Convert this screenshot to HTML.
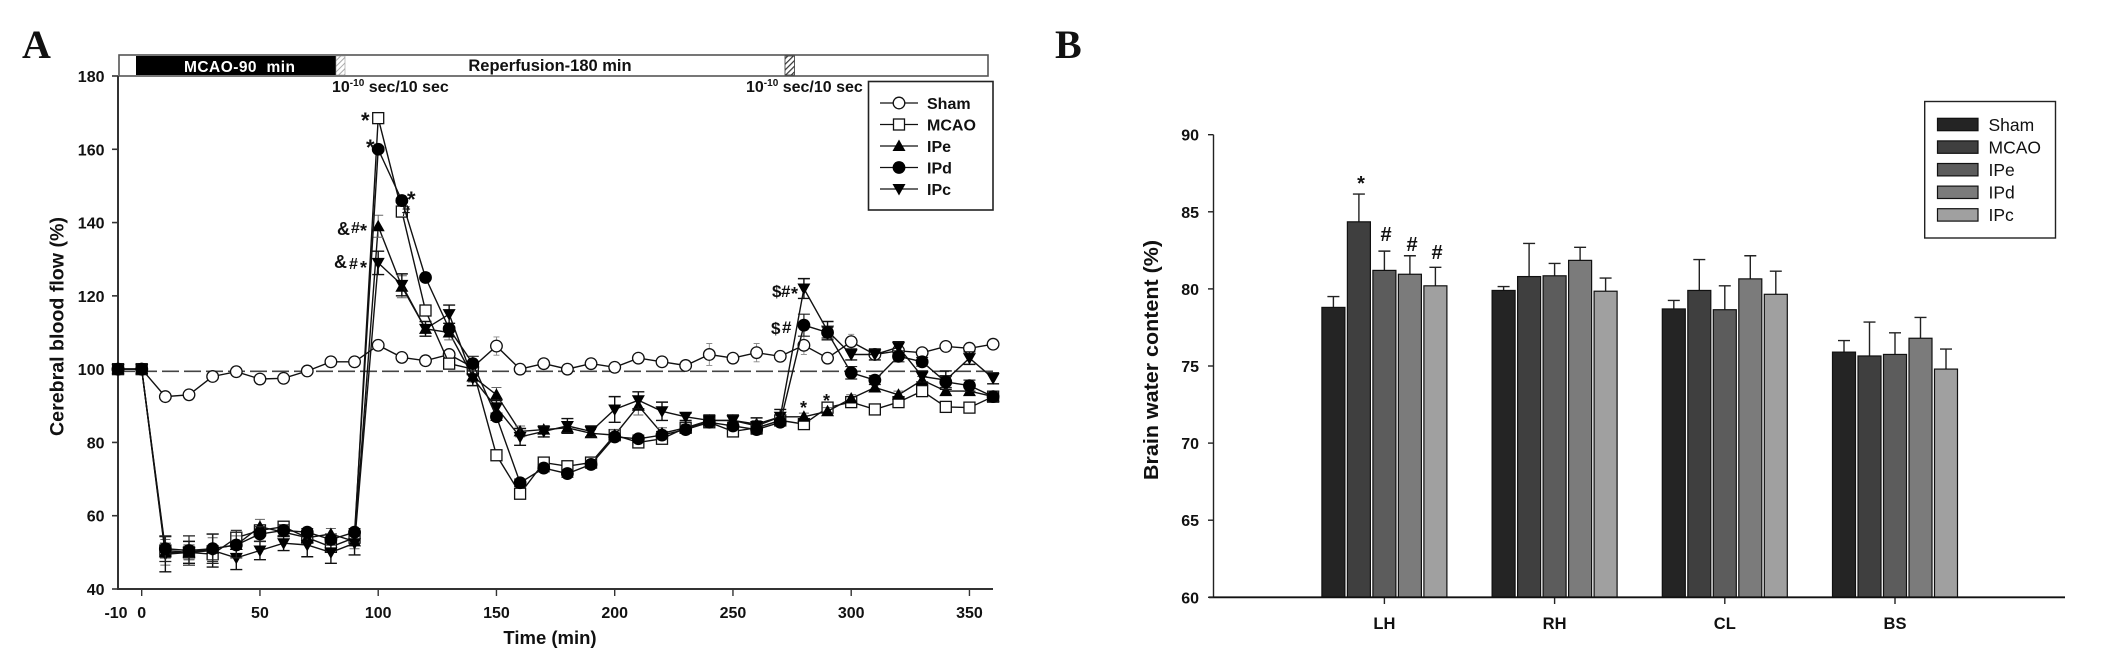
<!DOCTYPE html>
<html lang="en">
<head>
<meta charset="utf-8">
<title>Cerebral blood flow and brain water content</title>
<style>
html,body{margin:0;padding:0;background:#fff;}
body{width:2126px;height:655px;overflow:hidden;}
svg{display:block;filter:blur(0.35px);}
text{font-family:"Liberation Sans",sans-serif;fill:#111;}
.b{font-weight:bold;}
</style>
</head>
<body>
<svg id="fig" width="2126" height="655" viewBox="0 0 2126 655" xmlns="http://www.w3.org/2000/svg">
<defs>
<pattern id="hatch" width="4" height="4" patternUnits="userSpaceOnUse" patternTransform="rotate(45)">
<rect width="4" height="4" fill="#fff"/><rect width="1.2" height="4" fill="#333"/>
</pattern>
<pattern id="hatch2" width="4" height="4" patternUnits="userSpaceOnUse" patternTransform="rotate(45)">
<rect width="4" height="4" fill="#fff"/><rect width="1" height="4" fill="#aaa"/>
</pattern>
</defs>

<text x="22" y="58" style="font-family:'Liberation Serif',serif;font-weight:bold;font-size:40px">A</text>
<text x="1055" y="58" style="font-family:'Liberation Serif',serif;font-weight:bold;font-size:40px">B</text>

<g id="timeline">
<rect x="119" y="55" width="869" height="21" fill="#fff" stroke="#555" stroke-width="1.6"/>
<rect x="136" y="56" width="200" height="19" fill="#000"/>
<rect x="336" y="56" width="9" height="19" fill="url(#hatch2)" stroke="#999" stroke-width="0.6"/>
<rect x="785" y="56" width="9.5" height="19" fill="url(#hatch)" stroke="#333" stroke-width="0.8"/>
<text x="184" y="72" textLength="111" lengthAdjust="spacing" xml:space="preserve" class="b" style="font-size:15.5px;fill:#fff;white-space:pre">MCAO-90  min</text>
<text x="550" y="71" text-anchor="middle" class="b" style="font-size:16.5px">Reperfusion-180 min</text>
<text x="332" y="92" class="b" style="font-size:16px">10<tspan dy="-6" style="font-size:10px">-10</tspan><tspan dy="6"> sec/10 sec</tspan></text>
<text x="746" y="92" class="b" style="font-size:16px">10<tspan dy="-6" style="font-size:10px">-10</tspan><tspan dy="6"> sec/10 sec</tspan></text>
</g>

<g id="chartA"></g>
<g id="chartB"></g>

<g class="b" style="font-size:19px">
<text x="361" y="128" class="b" style="font-size:22px">*</text>
<text x="366" y="155" class="b" style="font-size:22px">*</text>
<text x="407" y="207" class="b" style="font-size:22px">*</text>
<text x="402" y="216" class="b" style="font-size:15px">#</text>
<text x="337" y="235" class="b" style="font-size:18px">&amp;</text>
<text x="351" y="233" class="b" style="font-size:16px">#</text>
<text x="360" y="237" class="b" style="font-size:18px">*</text>
<text x="334" y="268" class="b" style="font-size:18px">&amp;</text>
<text x="349" y="269" class="b" style="font-size:16px">#</text>
<text x="360" y="274" class="b" style="font-size:18px">*</text>
<text x="772" y="297" class="b" style="font-size:17px">$</text>
<text x="781" y="297" class="b" style="font-size:17px">#</text>
<text x="791" y="300" class="b" style="font-size:18px">*</text>
<text x="771" y="334" class="b" style="font-size:17px">$</text>
<text x="782" y="333" class="b" style="font-size:17px">#</text>
<text x="800" y="414" class="b" style="font-size:18px">*</text>
<text x="823" y="407" class="b" style="font-size:18px">*</text>
</g>

<g style="font-size:18px">
<text x="1361" y="190" text-anchor="middle" class="b" style="font-size:20px">*</text>
<text x="1386" y="241" text-anchor="middle" class="b" style="font-size:20px">#</text>
<text x="1412" y="251" text-anchor="middle" class="b" style="font-size:20px">#</text>
<text x="1437" y="259" text-anchor="middle" class="b" style="font-size:20px">#</text>
</g>
</svg>

<script>
/* ---------- Panel A data ---------- */
var timePoints = [-10,0,10,20,30,40,50,60,70,80,90,100,110,120,130,140,150,160,170,180,190,200,210,220,230,240,250,260,270,280,290,300,310,320,330,340,350,360];
var xTickLabelsA = [-10,0,50,100,150,200,250,300,350];
var yTickLabelsA = [40,60,80,100,120,140,160,180];
var baselineValue = [99.4];

var shamValues = [100,100,92.5,93,98,99.3,97.3,97.5,99.5,102,102,106.5,103.2,102.3,104,100.5,106.3,100,101.5,100,101.5,100.5,103,102,101,104,103,104.5,103.5,106.5,103,107.5,104,105,104.5,106.2,105.7,106.8];
var mcaoValues = [100,100,50.5,50,49.5,54,56,57,54,51.5,54,168.5,143,116,101.5,100,76.5,66,74.5,73.5,74.5,82,80,81,84,85.5,83,84,86,85,89.5,91,89,91,94,89.7,89.5,92.5];
var ipeValues = [100,100,50,50,51,52,57,55.5,54,55,53,139,122.5,111,110,98,93,83,83.5,84,82.5,82,90,82.5,84,86,86,85,87,87,88.5,92,95,93,97,94,94,92.5];
var ipdValues = [100,100,51,50.5,51,52,55,56,55.5,53.5,55.5,160,146,125,111,101.5,87,69,73,71.5,74,81.5,81,82,83.5,85.5,84.5,83.5,85.5,112,110,99,97,103.5,102,96.5,95.5,92.5];
var ipcValues = [100,100,49.5,50,50.5,48.5,50.5,52.5,52,50,52.5,129,123,111,115,97.5,89.5,81.5,83,84.5,83,89,91.5,88.5,87,86,86,84.5,87,122,110.5,104,104,106,98,97,103,97.5];

var shamErrors = [0,0,1,1,1,0.8,1,0.8,1.5,1,1,1.5,0.5,1,1.5,1,2.5,0.8,1,0.8,1,1,1,1,1,3,1,2.5,1.5,2.5,1.5,2,0.8,1,0.8,0.5,0.5,0];
var mcaoErrors = [0,0,2,2,2,2,1,1,1,1,1,0.5,0.5,1,1,1,1,1,1,1,1,1,1,1,0.5,0.5,1,1,1,1,1,1,1,1,1,1,1,1];
var ipeErrors = [0,0,3.5,2,3,2.5,2,1,1.5,1.5,2,3,3,2,2,1.5,2,1.5,1,1.5,1,1.5,2.5,1.5,1,1,1,1,1,1,1,1,1,1,1,1,1,1];
var ipdErrors = [0,0,3.5,4,4,3.5,2,1.5,1,1.5,1,0.5,0.5,0.5,0.5,2,1,1,1,1,1,1,1,1,1,1,1,1,1,3,1.5,1.7,1.2,1.5,1.2,1.5,1.5,1.5];
var ipcErrors = [0,0,4.8,3,4.5,3.2,2.5,2,3.2,3,3.2,3.2,3,2,2.5,2,2,2.3,1.5,2,1.5,3.5,2.3,2.5,1,1.5,1.5,2.2,2,2.7,2.5,1.5,1.5,1.5,1.5,2.5,1.7,1.5];

/* ---------- Panel B data ---------- */
var regions = ['LH','RH','CL','BS'];
var groupNames = ['Sham','MCAO','IPe','IPd','IPc'];
var yTickLabelsB = [60,65,70,75,80,85,90];
var shamWater = [78.8,79.9,78.7,75.9];
var mcaoWater = [84.35,80.8,79.9,75.65];
var ipeWater = [81.2,80.85,78.65,75.75];
var ipdWater = [80.95,81.85,80.65,76.8];
var ipcWater = [80.2,79.85,79.65,74.8];
var shamWaterErr = [0.7,0.25,0.55,0.75];
var mcaoWaterErr = [1.8,2.15,2.0,2.2];
var ipeWaterErr = [1.25,0.8,1.55,1.4];
var ipdWaterErr = [1.2,0.85,1.5,1.35];
var ipcWaterErr = [1.2,0.85,1.5,1.3];

var NS = 'http://www.w3.org/2000/svg';
function mk(tag, attrs, parent, txt) {
  var e = document.createElementNS(NS, tag);
  for (var k in attrs) e.setAttribute(k, attrs[k]);
  if (txt !== undefined) e.textContent = txt;
  parent.appendChild(e);
  return e;
}

/* ---------- Panel A ---------- */
var A = document.getElementById('chartA');
function xA(t) { return 141.7 + t * 2.365; }
function yA(v) { return 589 - (v - 40) * 3.6643; }
var AXIS = '#333';

var yAxisA = mk('line', {x1:118, y1:yA(180), x2:118, y2:590, stroke:AXIS, 'stroke-width':2}, A);


var xAxisA = mk('line', {x1:117, y1:589, x2:993, y2:589, stroke:AXIS, 'stroke-width':2}, A);



yTickLabelsA.forEach(function (v) {
  var tick = mk('line', {x1:112, y1:yA(v), x2:118, y2:yA(v), stroke:AXIS, 'stroke-width':1.6}, A);
  
  
  var lab = mk('text', {x:104.5, y:yA(v) + 6, 'text-anchor':'end', 'class':'b', style:'font-size:16px'}, A, String(v));
  
  
});
xTickLabelsA.forEach(function (t) {
  if (t !== -10) {
    var tick = mk('line', {x1:xA(t), y1:589, x2:xA(t), y2:596, stroke:AXIS, 'stroke-width':1.4}, A);
    
    
  }
  var lab = mk('text', {x:t === -10 ? 116 : xA(t), y:618, 'text-anchor':'middle', 'class':'b', style:'font-size:16px'}, A, String(t));
  
  
});
var xtA = mk('text', {x:550, y:644, 'text-anchor':'middle', 'class':'b', style:'font-size:18.5px'}, A, 'Time (min)');


var ytA = mk('text', {x:0, y:0, 'text-anchor':'middle', 'class':'b', transform:'translate(63.5 326.5) rotate(-90)', style:'font-size:19px', textLength:219, lengthAdjust:'spacingAndGlyphs'}, A, 'Cerebral blood flow (%)');



var base = mk('line', {x1:118, y1:yA(baselineValue[0]), x2:993, y2:yA(baselineValue[0]), stroke:'#444', 'stroke-width':1.6, 'stroke-dasharray':'17 5'}, A);



function symbol(shape, cx, cy, parent) {
  var s = 6.5;
  if (shape === 'circle-open') return mk('circle', {cx:cx, cy:cy, r:5.8, fill:'#fff', stroke:'#111', 'stroke-width':1.3}, parent);
  if (shape === 'square-open') return mk('rect', {x:cx - 5.5, y:cy - 5.5, width:11, height:11, fill:'#fff', stroke:'#111', 'stroke-width':1.3}, parent);
  if (shape === 'tri-up') return mk('polygon', {points:(cx - s) + ',' + (cy + 5) + ' ' + (cx + s) + ',' + (cy + 5) + ' ' + cx + ',' + (cy - 6.5), fill:'#000'}, parent);
  if (shape === 'circle') return mk('circle', {cx:cx, cy:cy, r:6.4, fill:'#000'}, parent);
  return mk('polygon', {points:(cx - s) + ',' + (cy - 5) + ' ' + (cx + s) + ',' + (cy - 5) + ' ' + cx + ',' + (cy + 6.5), fill:'#000'}, parent);
}

var seriesA = [
  {name:'sham', label:'Sham', vals:shamValues, errs:shamErrors, shape:'circle-open', err:'#888', cap:3, ew:0.9},
  {name:'mcao', label:'MCAO', vals:mcaoValues, errs:mcaoErrors, shape:'square-open', err:'#333', cap:5.5, ew:1.2},
  {name:'ipe', label:'IPe', vals:ipeValues, errs:ipeErrors, shape:'tri-up', err:'#666', cap:5, ew:1},
  {name:'ipc', label:'IPc', vals:ipcValues, errs:ipcErrors, shape:'tri-down', err:'#111', cap:6, ew:1.4},
  {name:'ipd', label:'IPd', vals:ipdValues, errs:ipdErrors, shape:'circle', err:'#222', cap:6, ew:1.2}
];
seriesA.forEach(function (s) {
  var g = mk('g', {}, A);
  
  
  var pts = timePoints.map(function (t, i) { return xA(t).toFixed(1) + ',' + yA(s.vals[i]).toFixed(1); }).join(' ');
  var line = mk('polyline', {points:pts, fill:'none', stroke:'#111', 'stroke-width':1.4}, g);
  
  
  timePoints.forEach(function (t, i) {
    if (s.errs[i] > 0) {
      var x = xA(t), y1 = yA(s.vals[i] - s.errs[i]), y2 = yA(s.vals[i] + s.errs[i]);
      var eb = mk('path', {d:'M' + x + ' ' + y1 + 'V' + y2 + 'M' + (x - s.cap) + ' ' + y1 + 'H' + (x + s.cap) + 'M' + (x - s.cap) + ' ' + y2 + 'H' + (x + s.cap), stroke:s.err, 'stroke-width':s.ew, fill:'none'}, g);
      
      
    }
  });
  timePoints.forEach(function (t, i) {
    var m = symbol(s.shape, xA(t), yA(s.vals[i]), g);
    
    
  });
});

/* Legend A */
var legA = mk('g', {}, A);


mk('rect', {x:868.5, y:81.5, width:124.5, height:128.5, fill:'#fff', stroke:'#222', 'stroke-width':1.6}, legA);
[['Sham','circle-open'],['MCAO','square-open'],['IPe','tri-up'],['IPd','circle'],['IPc','tri-down']].forEach(function (r, i) {
  var y = 103 + i * 21.5;
  var g = mk('g', {}, legA);
  
  
  mk('line', {x1:880, y1:y, x2:918, y2:y, stroke:'#111', 'stroke-width':1.3}, g);
  symbol(r[1], 899, y, g);
  mk('text', {x:927, y:y + 6, 'class':'b', style:'font-size:16px'}, g, r[0]);
});

/* ---------- Panel B ---------- */
var B = document.getElementById('chartB');
function yB(v) { return 597.3 - (v - 60) * 15.42; }
function xB(r) { return 1384.4 + r * 170.2; }
var colors = ['#242424','#3f3f3f','#5c5c5c','#7b7b7b','#a0a0a0'];
var watersB = [shamWater, mcaoWater, ipeWater, ipdWater, ipcWater];
var errsB = [shamWaterErr, mcaoWaterErr, ipeWaterErr, ipdWaterErr, ipcWaterErr];
var PITCH = 25.5, BARW = 23;

regions.forEach(function (reg, r) {
  var g = mk('g', {}, B);
  
  
  groupNames.forEach(function (nm, i) {
    var cx = xB(r) + (i - 2) * PITCH, v = watersB[i][r], e = errsB[i][r];
    var eb = mk('path', {d:'M' + cx + ' ' + yB(v) + 'V' + yB(v + e) + 'M' + (cx - 6) + ' ' + yB(v + e) + 'H' + (cx + 6), stroke:'#222', 'stroke-width':1.4, fill:'none'}, g);
    
    
    var bar = mk('rect', {x:cx - BARW / 2, y:yB(v), width:BARW, height:yB(60) - yB(v), fill:colors[i], stroke:'#111', 'stroke-width':1.2}, g);
    
    
  });
  var tick = mk('line', {x1:xB(r), y1:597, x2:xB(r), y2:604, stroke:'#222', 'stroke-width':1.4}, B);
  
  
  var lab = mk('text', {x:xB(r), y:629, 'text-anchor':'middle', 'class':'b', style:'font-size:16.5px'}, B, reg);
  
  
});

var yAxisB = mk('line', {x1:1213.5, y1:yB(90), x2:1213.5, y2:597.5, stroke:'#222', 'stroke-width':1.4}, B);


var xAxisB = mk('line', {x1:1209, y1:597.3, x2:2065, y2:597.3, stroke:'#111', 'stroke-width':1.8}, B);


yTickLabelsB.forEach(function (v) {
  var tick = mk('line', {x1:1208, y1:yB(v), x2:1213.5, y2:yB(v), stroke:'#222', 'stroke-width':1.4}, B);
  
  
  var lab = mk('text', {x:1199, y:yB(v) + 6, 'text-anchor':'end', 'class':'b', style:'font-size:16px'}, B, String(v));
  
  
});
var ytB = mk('text', {x:0, y:0, 'text-anchor':'middle', 'class':'b', transform:'translate(1158 360) rotate(-90)', style:'font-size:20px', textLength:240, lengthAdjust:'spacingAndGlyphs'}, B, 'Brain water content (%)');



var legB = mk('g', {}, B);


mk('rect', {x:1924.7, y:101.5, width:130.8, height:136.5, fill:'#fff', stroke:'#222', 'stroke-width':1.4}, legB);
groupNames.forEach(function (nm, i) {
  var y = 124.5 + i * 22.6;
  var g = mk('g', {}, legB);
  
  
  mk('rect', {x:1937.5, y:y - 6.2, width:40.5, height:12.4, fill:colors[i], stroke:'#111', 'stroke-width':1.2}, g);
  mk('text', {x:1988.5, y:y + 6.3, style:'font-size:17.5px'}, g, nm);
});
</script>
</body>
</html>
